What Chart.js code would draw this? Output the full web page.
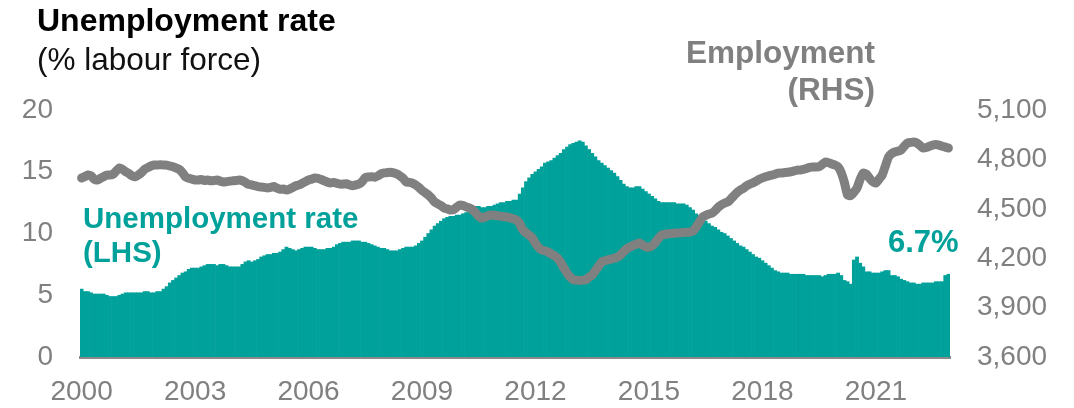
<!DOCTYPE html>
<html>
<head>
<meta charset="utf-8">
<script src="https://cdn.jsdelivr.net/npm/chart.js@4.4.0/dist/chart.umd.min.js"></script>
<style>
  html, body { margin: 0; padding: 0; background: #ffffff; }
  #wrap { position: relative; width: 1074px; height: 408px; overflow: hidden; font-family: "Liberation Sans", Arial, sans-serif; }
  #c { position: absolute; left: 0; top: 0; }
  .t { position: absolute; line-height: 1; white-space: nowrap; }
</style>
</head>
<body>
<div id="wrap">
  <canvas id="c" width="1074" height="408"></canvas>
  <div class="t" style="left:37px; top:4px; font-size:32px; font-weight:bold; color:#000;">Unemployment rate</div>
  <div class="t" style="left:37px; top:44px; font-size:31.5px; color:#111;">(% labour force)</div>
  <div class="t" style="right:199px; top:37px; font-size:31.5px; font-weight:bold; color:#808080; text-align:right;">Employment</div>
  <div class="t" style="right:199px; top:74px; font-size:31.5px; font-weight:bold; color:#808080; text-align:right;">(RHS)</div>
  <div class="t" style="left:83px; top:203px; font-size:29.5px; font-weight:bold; color:#00A19A;">Unemployment rate</div>
  <div class="t" style="left:83px; top:237px; font-size:29.5px; font-weight:bold; color:#00A19A;">(LHS)</div>
  <div class="t" style="left:888px; top:226px; font-size:31px; font-weight:bold; color:#00A19A;">6.7%</div>
</div>
<script>
// ---- DATA ----
const startYear = 2000;
const endYear = 2022;
const tickYears = ['2000', '2003', '2006', '2009', '2012', '2015', '2018', '2021'];

// Unemployment rate, % of labour force (monthly, Jan 2000 - Dec 2022)
const unemployment = [
  5.5,5.3,5.3,5.2,5.1,5.1,5.1,5.1,5.0,4.9,4.9,4.9,          // 2000
  5.0,5.1,5.2,5.2,5.2,5.2,5.2,5.2,5.3,5.3,5.2,5.2,          // 2001
  5.3,5.3,5.5,5.7,6.0,6.2,6.4,6.6,6.8,6.9,7.1,7.2,          // 2002
  7.2,7.2,7.3,7.4,7.5,7.5,7.5,7.4,7.5,7.5,7.4,7.3,          // 2003
  7.3,7.3,7.3,7.5,7.7,7.8,7.7,7.8,7.9,8.1,8.2,8.3,          // 2004
  8.3,8.4,8.4,8.5,8.7,8.9,8.8,8.7,8.6,8.7,8.8,8.9,          // 2005
  8.9,8.9,8.8,8.7,8.7,8.7,8.8,8.8,8.9,9.1,9.2,9.3,          // 2006
  9.3,9.3,9.4,9.4,9.4,9.3,9.3,9.2,9.1,9.0,8.9,8.8,          // 2007
  8.8,8.7,8.6,8.6,8.6,8.7,8.8,8.9,8.9,8.9,9.0,9.2,          // 2008
  9.4,9.7,10.0,10.3,10.6,10.8,11.0,11.2,11.3,11.4,11.4,11.5, // 2009
  11.5,11.6,11.7,11.9,12.1,12.2,12.2,12.1,12.1,12.2,12.2,12.3, // 2010
  12.4,12.5,12.5,12.6,12.6,12.7,12.7,13.2,13.7,14.2,14.5,14.8, // 2011
  15.0,15.2,15.4,15.7,15.8,15.9,16.1,16.3,16.5,16.8,17.0,17.2, // 2012
  17.3,17.4,17.5,17.4,17.1,16.8,16.5,16.2,15.9,15.7,15.5,15.3, // 2013
  15.1,14.9,14.6,14.3,14.0,13.8,13.7,13.7,13.8,13.8,13.6,13.4, // 2014
  13.2,13.0,12.8,12.6,12.5,12.5,12.5,12.5,12.5,12.4,12.4,12.4, // 2015
  12.3,12.1,11.9,11.6,11.4,11.2,11.0,10.8,10.6,10.5,10.3,10.1, // 2016
  10.0,9.8,9.6,9.4,9.2,9.0,8.9,8.7,8.5,8.3,8.1,8.0,          // 2017
  7.8,7.6,7.4,7.2,7.0,6.9,6.8,6.8,6.8,6.7,6.7,6.7,          // 2018
  6.7,6.7,6.6,6.6,6.6,6.6,6.6,6.5,6.6,6.7,6.7,6.7,          // 2019
  6.8,6.6,6.2,6.1,5.9,7.85,8.1,7.6,7.3,6.9,6.9,6.8,         // 2020
  6.8,6.8,6.9,7.0,7.0,6.6,6.6,6.5,6.3,6.2,6.1,6.0,          // 2021
  6.0,5.9,5.9,6.0,6.0,6.0,6.0,6.1,6.1,6.1,6.6,6.7           // 2022
];

// Employment, thousands (monthly, RHS)
const employment = [
  4687,4695,4705,4700,4680,4675,4685,4695,4705,4705,4710,4730, // 2000
  4748,4740,4725,4715,4700,4695,4705,4720,4740,4750,4760,4766, // 2001
  4766,4768,4766,4765,4760,4755,4748,4740,4720,4693,4685,4680, // 2002
  4675,4675,4678,4672,4675,4670,4672,4675,4668,4663,4665,4668, // 2003
  4670,4672,4675,4670,4660,4648,4645,4640,4635,4632,4630,4627, // 2004
  4630,4635,4625,4618,4620,4614,4620,4630,4640,4645,4655,4665, // 2005
  4675,4680,4687,4685,4678,4670,4662,4657,4660,4655,4650,4650, // 2006
  4652,4645,4640,4645,4650,4665,4690,4693,4695,4692,4700,4712, // 2007
  4718,4720,4722,4718,4712,4700,4685,4663,4660,4655,4645,4630, // 2008
  4612,4598,4584,4565,4541,4530,4520,4505,4500,4493,4495,4510, // 2009
  4523,4520,4512,4505,4495,4475,4455,4444,4450,4458,4462,4460, // 2010
  4458,4455,4452,4450,4445,4440,4432,4410,4371,4355,4340,4323, // 2011
  4290,4265,4250,4245,4238,4225,4215,4201,4175,4140,4110,4085, // 2012
  4070,4067,4065,4067,4070,4085,4098,4125,4150,4177,4185,4190, // 2013
  4195,4200,4207,4220,4240,4258,4268,4278,4285,4292,4280,4268, // 2014
  4268,4275,4295,4320,4341,4345,4348,4350,4352,4353,4354,4356, // 2015
  4358,4359,4365,4390,4420,4450,4460,4468,4474,4490,4510,4525, // 2016
  4535,4541,4560,4580,4600,4614,4625,4640,4650,4657,4668,4680, // 2017
  4688,4695,4700,4705,4710,4717,4718,4720,4722,4725,4730,4735, // 2018
  4735,4740,4745,4752,4754,4754,4756,4770,4784,4780,4772,4766, // 2019
  4755,4720,4660,4584,4580,4600,4626,4680,4717,4710,4685,4665, // 2020
  4657,4680,4705,4760,4815,4835,4845,4850,4857,4880,4899,4903, // 2021
  4906,4900,4885,4869,4872,4880,4887,4890,4887,4880,4875,4869  // 2022
];

// Monthly categories
const months = [];
for (let y = startYear; y <= endYear; y++) {
  for (let m = 1; m <= 12; m++) months.push(y + '-' + String(m).padStart(2, '0'));
}

const TEAL = '#00A19A';
const GREY = '#808080';
const FONT = '"Liberation Sans", Arial, sans-serif';

new Chart(document.getElementById('c'), {
  data: {
    labels: months,
    datasets: [
      {
        type: 'line',
        label: 'Employment (RHS)',
        data: employment,
        yAxisID: 'y1',
        borderColor: GREY,
        borderWidth: 9,
        pointRadius: 0,
        tension: 0.2,
        borderCapStyle: 'round',
        borderJoinStyle: 'round',
        order: 0
      },
      {
        type: 'bar',
        label: 'Unemployment rate (LHS)',
        data: unemployment,
        yAxisID: 'y',
        backgroundColor: TEAL,
        borderWidth: 0,
        barPercentage: 1,
        categoryPercentage: 1,
        order: 1
      }
    ]
  },
  options: {
    responsive: false,
    animation: false,
    events: [],
    layout: { padding: { left: 22, right: 26, top: 110, bottom: 3 } },
    plugins: { legend: { display: false }, tooltip: { enabled: false }, title: { display: false } },
    scales: {
      x: {
        type: 'category',
        offset: true,
        grid: { display: false, drawTicks: false },
        border: { display: true, color: '#8a8a8a', width: 3 },
        afterFit: function (s) { s.height = 48; },
        ticks: {
          autoSkip: false,
          maxRotation: 0,
          minRotation: 0,
          padding: 18,
          color: GREY,
          font: { family: FONT, size: 28 },
          callback: function (v, i) {
            const lab = months[i];
            if (lab.endsWith('-01') && tickYears.includes(lab.slice(0, 4))) return lab.slice(0, 4);
            return null;
          }
        }
      },
      y: {
        position: 'left',
        min: 0,
        max: 20,
        grid: { display: false, drawTicks: false },
        border: { display: false },
        afterFit: function (s) { s.width = 58; },
        ticks: { stepSize: 5, padding: 27, color: GREY, font: { family: FONT, size: 28 } }
      },
      y1: {
        position: 'right',
        min: 3600,
        max: 5100,
        grid: { display: false, drawTicks: false },
        border: { display: false },
        afterFit: function (s) { s.width = 98; },
        ticks: {
          stepSize: 300,
          padding: 27,
          color: GREY,
          font: { family: FONT, size: 28 },
          callback: function (v) { return v.toLocaleString('en-US'); }
        }
      }
    }
  }
});
</script>
</body>
</html>
